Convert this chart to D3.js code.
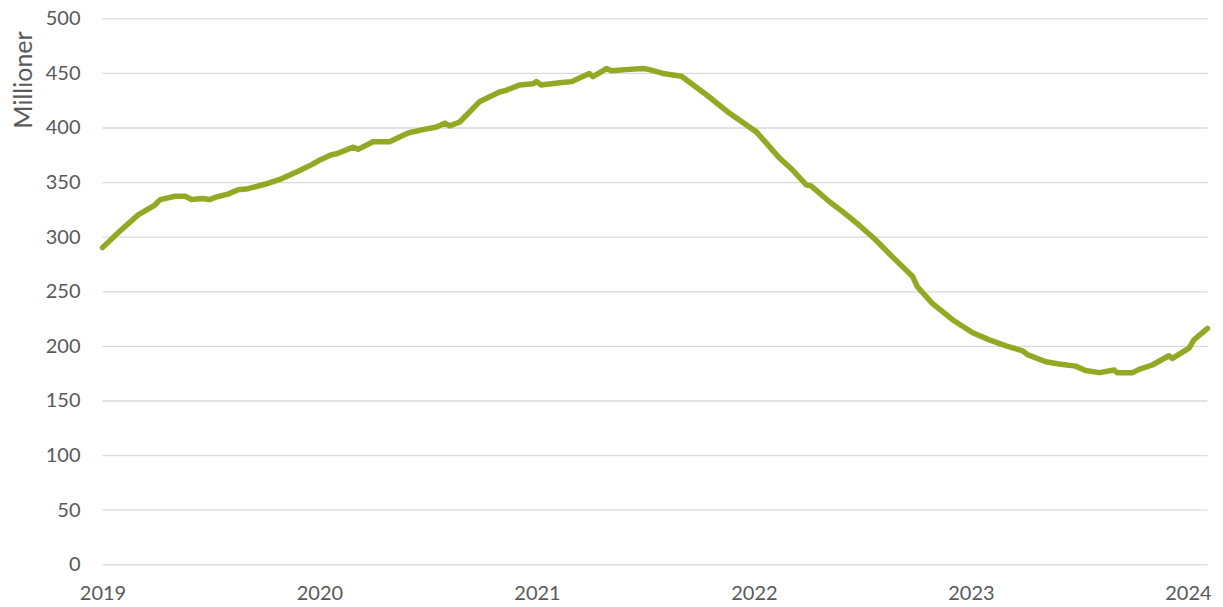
<!DOCTYPE html>
<html>
<head>
<meta charset="utf-8">
<script src="https://cdn.jsdelivr.net/npm/d3@7"></script>
<style>
  html, body { margin: 0; padding: 0; background: #fff; }
  svg { display: block; font-family: Lato, "Open Sans", sans-serif; }
</style>
</head>
<body>
<div id="chart"></div>
<script>
// readings, one row per visible bend of the line
const dates = [
  "2019-01-01", "2019-01-30", "2019-03-02", "2019-03-30", "2019-04-08", "2019-05-03",
  "2019-05-20", "2019-05-31", "2019-06-17", "2019-07-01", "2019-07-09", "2019-07-31",
  "2019-08-17", "2019-09-03", "2019-10-01", "2019-10-29", "2019-11-26", "2019-12-19",
  "2020-01-01", "2020-01-21", "2020-01-30", "2020-02-27", "2020-03-06", "2020-03-31",
  "2020-04-28", "2020-05-29", "2020-06-23", "2020-07-16", "2020-07-30", "2020-08-07",
  "2020-08-24", "2020-09-26", "2020-10-30", "2020-11-10", "2020-12-03", "2020-12-25",
  "2020-12-31", "2021-01-08", "2021-02-08", "2021-02-28", "2021-03-30", "2021-04-05",
  "2021-04-28", "2021-05-06", "2021-05-31", "2021-06-28", "2021-07-09", "2021-08-01",
  "2021-09-01", "2021-10-13", "2021-11-21", "2022-01-05", "2022-02-13", "2022-03-07",
  "2022-03-30", "2022-04-07", "2022-05-08", "2022-05-30", "2022-06-27", "2022-07-25",
  "2022-08-22", "2022-09-25", "2022-10-03", "2022-10-28", "2022-12-01", "2023-01-04",
  "2023-02-01", "2023-03-01", "2023-03-29", "2023-04-06", "2023-05-07", "2023-05-29",
  "2023-06-26", "2023-07-13", "2023-08-05", "2023-08-30", "2023-09-04", "2023-09-30",
  "2023-10-11", "2023-11-02", "2023-11-30", "2023-12-06", "2024-01-03", "2024-01-11",
  "2024-02-03"
];
const values = [
  290, 305, 320, 329, 334, 337,
  337, 334, 335, 334, 336, 339,
  343, 344, 348, 353, 360, 366,
  370, 375, 376, 382, 380, 387,
  387, 395, 398, 400.5, 404, 401.5,
  405, 423.5, 432.5, 434, 439, 440,
  442, 439, 441, 442, 449.5, 446.5,
  454, 452, 453, 454, 453, 449.5,
  447, 430, 413, 396, 372, 361,
  347.5, 346.5, 332, 323, 310.5, 297,
  281.5, 263.5, 254, 239, 224, 212,
  205.5, 200, 195.5, 192, 185.5, 183.5,
  181.5, 177.5, 175.5, 178, 175.5, 175.5,
  178.5, 182.5, 191, 188.5, 198, 205.5,
  216
];
const yTicks = [0, 50, 100, 150, 200, 250, 300, 350, 400, 450, 500];
const xTicks = ["2019-01-01", "2020-01-01", "2021-01-01", "2022-01-01", "2023-01-01", "2024-01-01"];
const yTitle = "Millioner";

const width = 1223, height = 607;
const parse = d3.utcParse("%Y-%m-%d");
const data = dates.map((d, i) => ({ date: parse(d), value: values[i] }));

const x = d3.scaleUtc()
  .domain([parse(dates[0]), parse(dates[dates.length - 1])])
  .range([102.5, 1207.5]);
const y = d3.scaleLinear()
  .domain([0, 500])
  .range([564.3, 18.3]);

const svg = d3.select("#chart").append("svg")
  .attr("width", width)
  .attr("height", height);

let yAxis = g => g
  .attr("transform", `translate(${x.range()[0]},0)`)
  .call(d3.axisLeft(y).tickValues(yTicks).tickSize(-(x.range()[1] - x.range()[0])).tickPadding(22))
  .call(g => g.select(".domain").remove())
  .call(g => g.selectAll(".tick line").attr("stroke", "#d9d9d9").attr("stroke-width", 1.3))
  .call(g => g.selectAll(".tick text")
    .attr("fill", "#595959").attr("font-size", 20).attr("font-family", "Lato, 'Open Sans', sans-serif"));

let xAxis = g => g
  .attr("transform", `translate(0,${y(0)})`)
  .call(d3.axisBottom(x).tickValues(xTicks.map(parse)).tickFormat(d3.utcFormat("%Y")).tickSize(0).tickPadding(22))
  .call(g => g.select(".domain").remove())
  .call(g => g.selectAll(".tick text")
    .attr("fill", "#595959").attr("font-size", 20).attr("font-family", "Lato, 'Open Sans', sans-serif"));

svg.append("g").call(yAxis);
svg.append("g").call(xAxis);

let line = d3.line()
  .x(d => x(d.date))
  .y(d => y(d.value));

svg.append("path")
  .attr("d", line(data))
  .attr("fill", "none")
  .attr("stroke", "#93a823")
  .attr("stroke-width", 5.5)
  .attr("stroke-linejoin", "round")
  .attr("stroke-linecap", "round");

svg.append("text")
  .attr("transform", `translate(32,80) rotate(-90)`)
  .attr("text-anchor", "middle")
  .attr("fill", "#595959")
  .attr("font-size", 25)
  .text(yTitle);
</script>
</body>
</html>
